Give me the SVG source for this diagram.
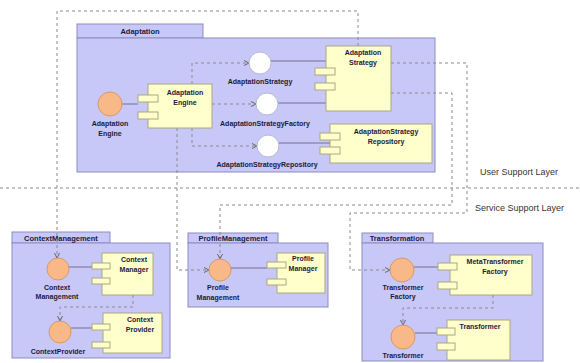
<svg xmlns="http://www.w3.org/2000/svg" width="580" height="363" viewBox="0 0 580 363">
<style>
.pkg{fill:#c8c8f8;stroke:#8c8cc0;stroke-width:1}
.tab{fill:#c8c8f8;stroke:#8c8cc0;stroke-width:1}
.comp{fill:#ffffcc;stroke:#a8a880;stroke-width:1}
.port{fill:#ffffcc;stroke:#a8a880;stroke-width:1}
.ifo{fill:#f8b888;stroke:#d89868;stroke-width:1}
.ifw{fill:#ffffff;stroke:#b8b8d0;stroke-width:1}
.sol{stroke:#707090;stroke-width:1;fill:none}
.dash{stroke:#8a8a8a;stroke-width:1;fill:none;stroke-dasharray:3,3}
text{font-family:"Liberation Sans",Arial,sans-serif;fill:#1a1a3a}
.t{font-size:7px;font-weight:bold;text-anchor:middle}
.pt{font-size:7.5px;font-weight:bold;text-anchor:middle}
.layer{font-size:9px;fill:#333333}
</style>
<defs>
<marker id="arr" markerWidth="6" markerHeight="6" refX="5" refY="3" orient="auto" markerUnits="userSpaceOnUse">
<path d="M0,0.5 L5,3 L0,5.5" fill="none" stroke="#666" stroke-width="1"/>
</marker>
</defs>

<path class="dash" d="M0,188 H580"/>
<text class="layer" x="480" y="175">User Support Layer</text>
<text class="layer" x="475" y="211">Service Support Layer</text>

<g id="Adaptation">
<rect class="tab" x="77" y="24" width="126" height="14"/>
<rect class="pkg" x="77" y="38" width="358" height="134"/>
<text class="pt" x="140" y="34">Adaptation</text>
</g>
<g id="ContextManagement">
<rect class="tab" x="12" y="232" width="98" height="11"/>
<rect class="pkg" x="12" y="243" width="158" height="115"/>
<text class="pt" x="61" y="240.5">ContextManagement</text>
</g>
<g id="ProfileManagement">
<rect class="tab" x="188" y="233" width="90" height="10"/>
<rect class="pkg" x="188" y="243" width="140" height="64"/>
<text class="pt" x="233" y="241">ProfileManagement</text>
</g>
<g id="Transformation">
<rect class="tab" x="362" y="233" width="71" height="10"/>
<rect class="pkg" x="362" y="243" width="181" height="118"/>
<text class="pt" x="397" y="241">Transformation</text>
</g>

<g id="connectors">
<line class="sol" x1="122" y1="104" x2="138" y2="104"/>
<line class="sol" x1="271" y1="61" x2="326" y2="61"/>
<line class="sol" x1="278" y1="103" x2="326" y2="103"/>
<line class="sol" x1="279" y1="143" x2="330" y2="143"/>
<line class="sol" x1="69" y1="267" x2="92" y2="267"/>
<line class="sol" x1="71" y1="328" x2="92" y2="328"/>
<line class="sol" x1="231" y1="268" x2="267" y2="268"/>
<line class="sol" x1="414" y1="267" x2="438" y2="267"/>
<line class="sol" x1="415" y1="333" x2="437" y2="333"/>
<path class="dash" marker-end="url(#arr)" d="M192,84 V63 H249"/>
<path class="dash" marker-end="url(#arr)" d="M212,104 H256"/>
<path class="dash" marker-end="url(#arr)" d="M192,128 V146 H257"/>
<path class="dash" marker-end="url(#arr)" d="M177,128 V270 H209"/>
<path class="dash" marker-end="url(#arr)" d="M358,46 V11 H57 V258"/>
<path class="dash" marker-end="url(#arr)" d="M391,63 H467 V213 H350 V270 H390"/>
<path class="dash" marker-end="url(#arr)" d="M391,93 H452 V205 H220 V259"/>
<path class="dash" marker-end="url(#arr)" d="M133,295 V307 H60 V321"/>
<path class="dash" marker-end="url(#arr)" d="M493,295 V308 H403 V325"/>
</g>

<g id="AdaptationEngineComp">
<rect class="comp" x="148" y="84" width="64" height="44"/>
<rect class="port" x="138" y="95" width="20" height="7"/>
<rect class="port" x="138" y="112" width="20" height="7"/>
<text class="t" x="185" y="95">Adaptation</text>
<text class="t" x="185" y="105">Engine</text>
</g>
<g id="AdaptationStrategyComp">
<rect class="comp" x="326" y="46" width="65" height="65"/>
<rect class="port" x="315" y="68" width="20" height="7"/>
<rect class="port" x="315" y="83" width="20" height="7"/>
<text class="t" x="363" y="55">Adaptation</text>
<text class="t" x="363" y="65">Strategy</text>
</g>
<g id="AdaptationStrategyRepositoryComp">
<rect class="comp" x="330" y="124" width="102" height="39"/>
<rect class="port" x="320" y="133" width="20" height="7"/>
<rect class="port" x="320" y="147" width="20" height="7"/>
<text class="t" x="386" y="134">AdaptationStrategy</text>
<text class="t" x="386" y="144">Repository</text>
</g>
<g id="AdaptationEngineIf">
<circle class="ifo" cx="110" cy="104" r="12"/>
<text class="t" x="110" y="126">Adaptation</text>
<text class="t" x="110" y="136">Engine</text>
</g>
<g id="AdaptationStrategyIf">
<circle class="ifw" cx="260" cy="63" r="11"/>
<text class="t" x="260" y="84">AdaptationStrategy</text>
</g>
<g id="AdaptationStrategyFactoryIf">
<circle class="ifw" cx="267" cy="104" r="11"/>
<text class="t" x="265" y="126">AdaptationStrategyFactory</text>
</g>
<g id="AdaptationStrategyRepositoryIf">
<circle class="ifw" cx="268" cy="146" r="11"/>
<text class="t" x="267" y="167">AdaptationStrategyRepository</text>
</g>

<g id="ContextManagerComp">
<rect class="comp" x="102" y="253" width="51" height="42"/>
<rect class="port" x="92" y="263" width="18" height="6"/>
<rect class="port" x="92" y="278" width="18" height="6"/>
<text class="t" x="134" y="262">Context</text>
<text class="t" x="134" y="272">Manager</text>
</g>
<g id="ContextManagementIf">
<circle class="ifo" cx="58" cy="269" r="11"/>
<text class="t" x="57" y="290">Context</text>
<text class="t" x="57" y="299">Management</text>
</g>
<g id="ContextProviderComp">
<rect class="comp" x="103" y="313" width="59" height="40"/>
<rect class="port" x="92" y="324" width="18" height="6"/>
<rect class="port" x="92" y="342" width="18" height="6"/>
<text class="t" x="140" y="322">Context</text>
<text class="t" x="140" y="332">Provider</text>
</g>
<g id="ContextProviderIf">
<circle class="ifo" cx="60" cy="332" r="11"/>
<text class="t" x="58" y="354">ContextProvider</text>
</g>

<g id="ProfileManagerComp">
<rect class="comp" x="277" y="253" width="48" height="40"/>
<rect class="port" x="267" y="262" width="19" height="6"/>
<rect class="port" x="267" y="279" width="19" height="6"/>
<text class="t" x="303" y="261">Profile</text>
<text class="t" x="303" y="271">Manager</text>
</g>
<g id="ProfileManagementIf">
<circle class="ifo" cx="220" cy="270" r="11"/>
<text class="t" x="218" y="290">Profile</text>
<text class="t" x="218" y="300">Management</text>
</g>

<g id="MetaTransformerFactoryComp">
<rect class="comp" x="450" y="255" width="82" height="40"/>
<rect class="port" x="438" y="263" width="19" height="7"/>
<rect class="port" x="438" y="282" width="19" height="7"/>
<text class="t" x="495" y="264">MetaTransformer</text>
<text class="t" x="495" y="274">Factory</text>
</g>
<g id="TransformerFactoryIf">
<circle class="ifo" cx="402" cy="270" r="12"/>
<text class="t" x="403" y="290">Transformer</text>
<text class="t" x="403" y="299">Factory</text>
</g>
<g id="TransformerComp">
<rect class="comp" x="447" y="320" width="63" height="40"/>
<rect class="port" x="437" y="328" width="18" height="7"/>
<rect class="port" x="437" y="343" width="18" height="7"/>
<text class="t" x="480" y="329">Transformer</text>
</g>
<g id="TransformerIf">
<circle class="ifo" cx="403" cy="337" r="12"/>
<text class="t" x="403" y="358">Transformer</text>
</g>
</svg>
